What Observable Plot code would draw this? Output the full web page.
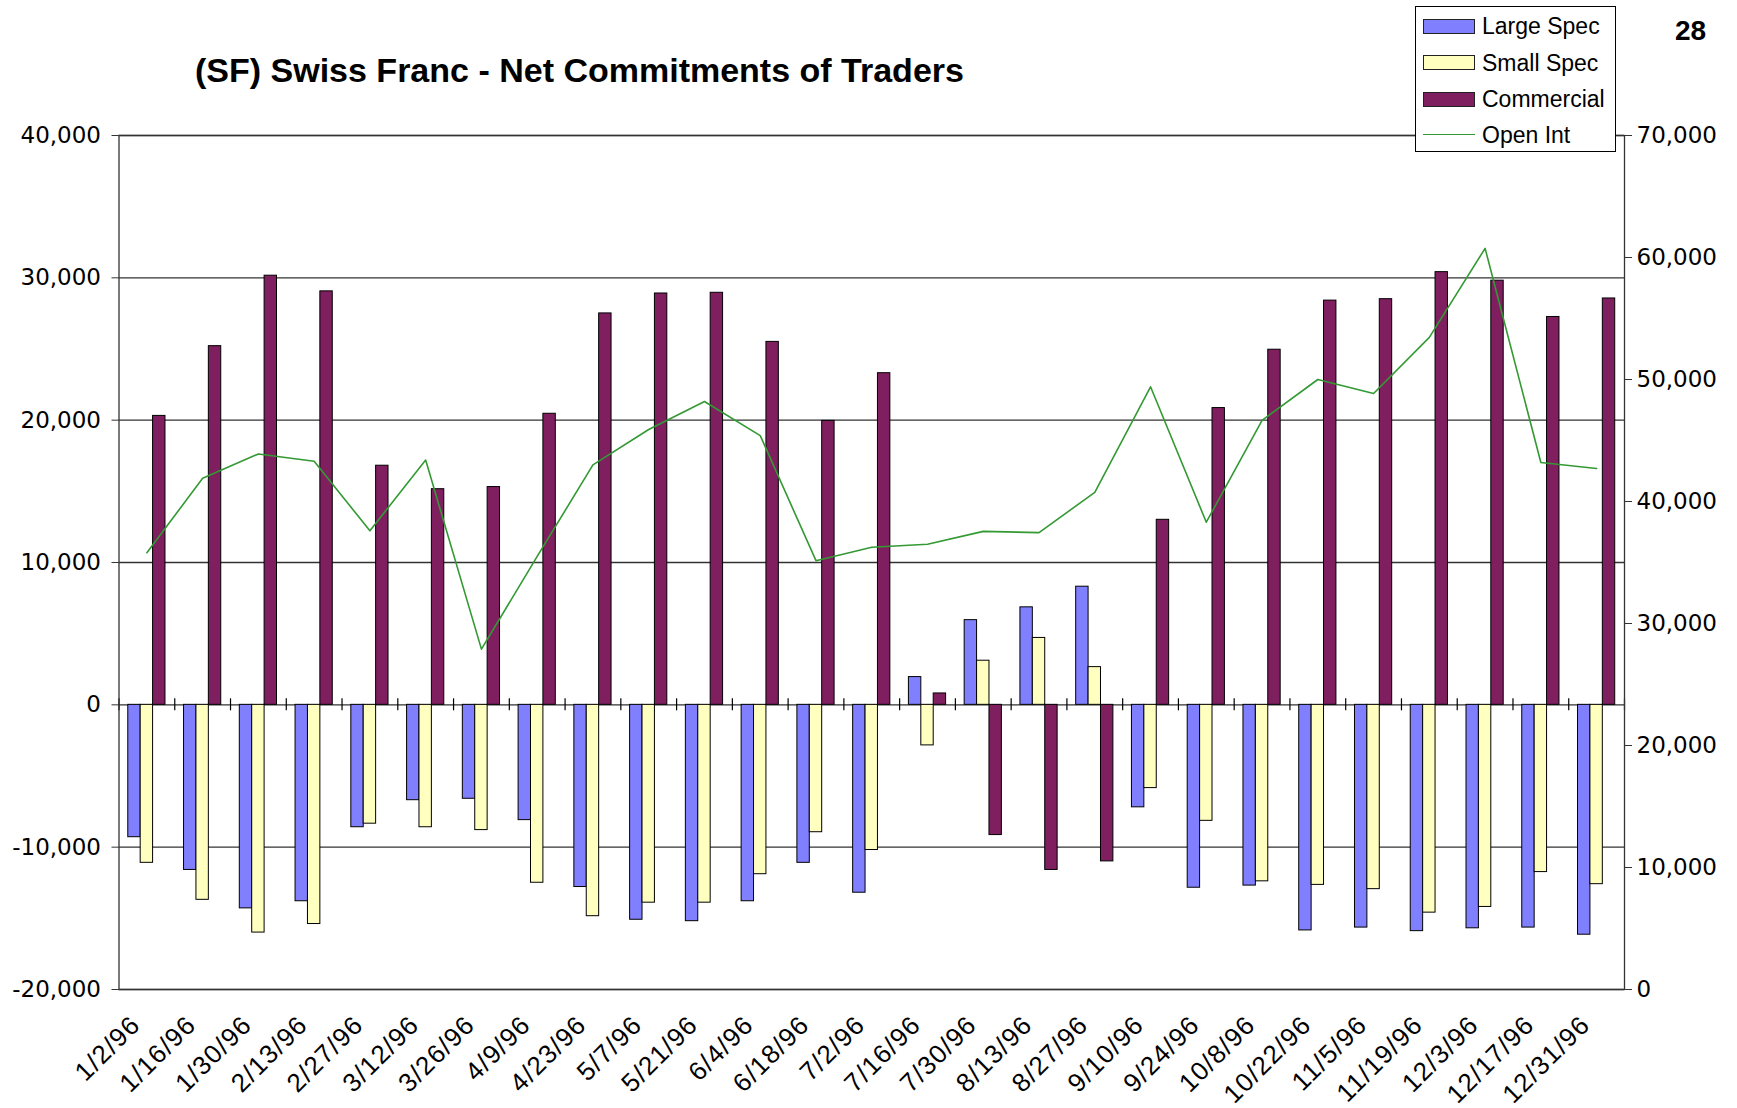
<!DOCTYPE html>
<html>
<head>
<meta charset="utf-8">
<script src="https://cdn.jsdelivr.net/npm/d3@7"></script>
<script src="https://cdn.jsdelivr.net/npm/@observablehq/plot@0.6"></script>
<style>
  body { margin: 0; background: #fff; }
  #wrap { position: relative; width: 1737px; height: 1108px; font-family: "Liberation Sans", Arial, sans-serif; color: #000; }
  #chart { position: absolute; left: 0; top: 0; }
  #chart svg [aria-label="x-axis tick label"] text { letter-spacing: 1.2px; }
  #title { position: absolute; left: 195px; top: 53px; font-size: 34px; font-weight: bold; line-height: 1; white-space: nowrap; }
  #page { position: absolute; left: 1675px; top: 17px; font-size: 28px; font-weight: bold; line-height: 1; }
  #legend { position: absolute; left: 1415px; top: 6px; width: 201px; height: 146px; border: 1px solid #000; background: #fff; box-sizing: border-box; }
  .row { position: absolute; left: 0; height: 0; }
  .sw { position: absolute; left: 7px; width: 52px; height: 15px; top: -7.5px; border: 1.5px solid #222; box-sizing: border-box; }
  .ln { position: absolute; left: 7px; width: 52px; height: 0; top: -0.75px; border-top: 1.5px solid #339933; }
  .lb { position: absolute; left: 66px; top: -13px; font-size: 23px; line-height: 26px; white-space: nowrap; }
</style>
</head>
<body>
<div id="wrap">
  <div id="chart"></div>
  <div id="title">(SF) Swiss Franc - Net Commitments of Traders</div>
  <div id="page">28</div>
  <div id="legend"></div>
</div>
<script>
const dates = ["1/2/96","1/16/96","1/30/96","2/13/96","2/27/96","3/12/96","3/26/96","4/9/96","4/23/96","5/7/96","5/21/96","6/4/96","6/18/96","7/2/96","7/16/96","7/30/96","8/13/96","8/27/96","9/10/96","9/24/96","10/8/96","10/22/96","11/5/96","11/19/96","12/3/96","12/17/96","12/31/96"];
const largeSpec = [-9300,-11600,-14300,-13800,-8600,-6700,-6600,-8100,-12800,-15100,-15200,-13800,-11100,-13200,1950,5950,6850,8300,-7200,-12850,-12700,-15850,-15650,-15900,-15700,-15650,-16150];
const smallSpec = [-11100,-13700,-16000,-15400,-8350,-8600,-8800,-12500,-14850,-13900,-13900,-11900,-8950,-10200,-2850,3100,4700,2650,-5850,-8150,-12400,-12650,-12950,-14600,-14200,-11750,-12600];
const commercial = [20300,25200,30150,29050,16800,15150,15300,20450,27500,28900,28950,25500,19950,23300,800,-9150,-11600,-11000,13000,20850,24950,28400,28500,30400,29800,27250,28550];
const openInt = [35800,41900,43900,43300,37600,43400,27900,35500,43000,45900,48200,45400,35150,36250,36500,37550,37450,40750,49400,38300,46650,50000,48850,53450,60750,43200,42700];
const leftTicks = [-20000,-10000,0,10000,20000,30000,40000];
const rightTicks = [0,10000,20000,30000,40000,50000,60000,70000];
const seriesNames = ["Large Spec","Small Spec","Commercial","Open Int"];
const seriesColors = ["#8080ff","#ffffc0","#7f1f5f","#339933"];

// right axis (0..70,000) shares the plot height with the left axis (-20,000..40,000)
const leftMin = -20000, leftMax = 40000, rightMin = 0, rightMax = 70000;
const toLeft = r => leftMin + (r - rightMin) * (leftMax - leftMin) / (rightMax - rightMin);
const toRight = l => rightMin + (l - leftMin) * (rightMax - rightMin) / (leftMax - leftMin);
const fmt = v => d3.format(",")(v).replace("\u2212", "-");

const rows = dates.map((d, i) => ({date: d, ls: largeSpec[i], ss: smallSpec[i], cm: commercial[i], oi: openInt[i]}));

const W = 1737, H = 1108, mL = 118.5, mR = 113, mT = 135, mB = 119;
const bw = (W - mL - mR) / dates.length;
const barW = 12.4;
const inset = (bw - barW) / 2;
const barStyle = {stroke: "#000", strokeWidth: 1, insetLeft: inset, insetRight: inset};
const last = dates[dates.length - 1];

const chart = Plot.plot({
  width: W, height: H,
  marginLeft: mL, marginRight: mR, marginTop: mT, marginBottom: mB,
  x: {type: "band", domain: dates, padding: 0, round: false, label: null},
  y: {domain: [leftMin, leftMax], label: null},
  style: {background: "white", overflow: "visible"},
  marks: [
    Plot.ruleY(leftTicks, {stroke: "#333", strokeWidth: 1.3}),
    Plot.barY(rows, {x: "date", y: "ls", fill: seriesColors[0], dx: -barW, ...barStyle}),
    Plot.barY(rows, {x: "date", y: "ss", fill: seriesColors[1], ...barStyle}),
    Plot.barY(rows, {x: "date", y: "cm", fill: seriesColors[2], dx: barW, ...barStyle}),
    Plot.lineY(rows, {x: "date", y: d => toLeft(d.oi), stroke: seriesColors[3], strokeWidth: 1.6}),
    Plot.ruleX(dates, {x: d => d, y1: 0, y2: 0, insetTop: -6, insetBottom: -6, dx: -bw / 2, stroke: "#000", strokeWidth: 1.2}),
    Plot.ruleX([last], {x: d => d, y1: 0, y2: 0, insetTop: -6, insetBottom: -6, dx: bw / 2, stroke: "#000", strokeWidth: 1.2}),
    Plot.frame({stroke: "#333", strokeWidth: 1.3}),
    Plot.axisY(leftTicks, {anchor: "left", tickSize: 7, tickPadding: 11, tickFormat: fmt, fontSize: 23, fontFamily: "DejaVu Sans", label: null, stroke: "#333"}),
    Plot.axisY(rightTicks.map(toLeft), {anchor: "right", tickSize: 7, tickPadding: 5, tickFormat: v => fmt(Math.round(toRight(v))), fontSize: 23, fontFamily: "DejaVu Sans", label: null, stroke: "#333"}),
    Plot.axisX({anchor: "bottom", tickSize: 0, tickPadding: 31, tickRotate: -45, dx: -11, fontSize: 26, fontFamily: "Liberation Sans, Arial, sans-serif", label: null})
  ]
});
document.getElementById("chart").appendChild(chart);

const legend = document.getElementById("legend");
const rowCenters = [19, 55.5, 92, 128];
seriesNames.forEach((name, i) => {
  const r = document.createElement("div");
  r.className = "row";
  r.style.top = rowCenters[i] + "px";
  const s = document.createElement("div");
  if (i < 3) { s.className = "sw"; s.style.background = seriesColors[i]; }
  else { s.className = "ln"; s.style.borderTopColor = seriesColors[i]; }
  const t = document.createElement("div");
  t.className = "lb";
  t.textContent = name;
  r.appendChild(s); r.appendChild(t);
  legend.appendChild(r);
});
</script>
</body>
</html>
